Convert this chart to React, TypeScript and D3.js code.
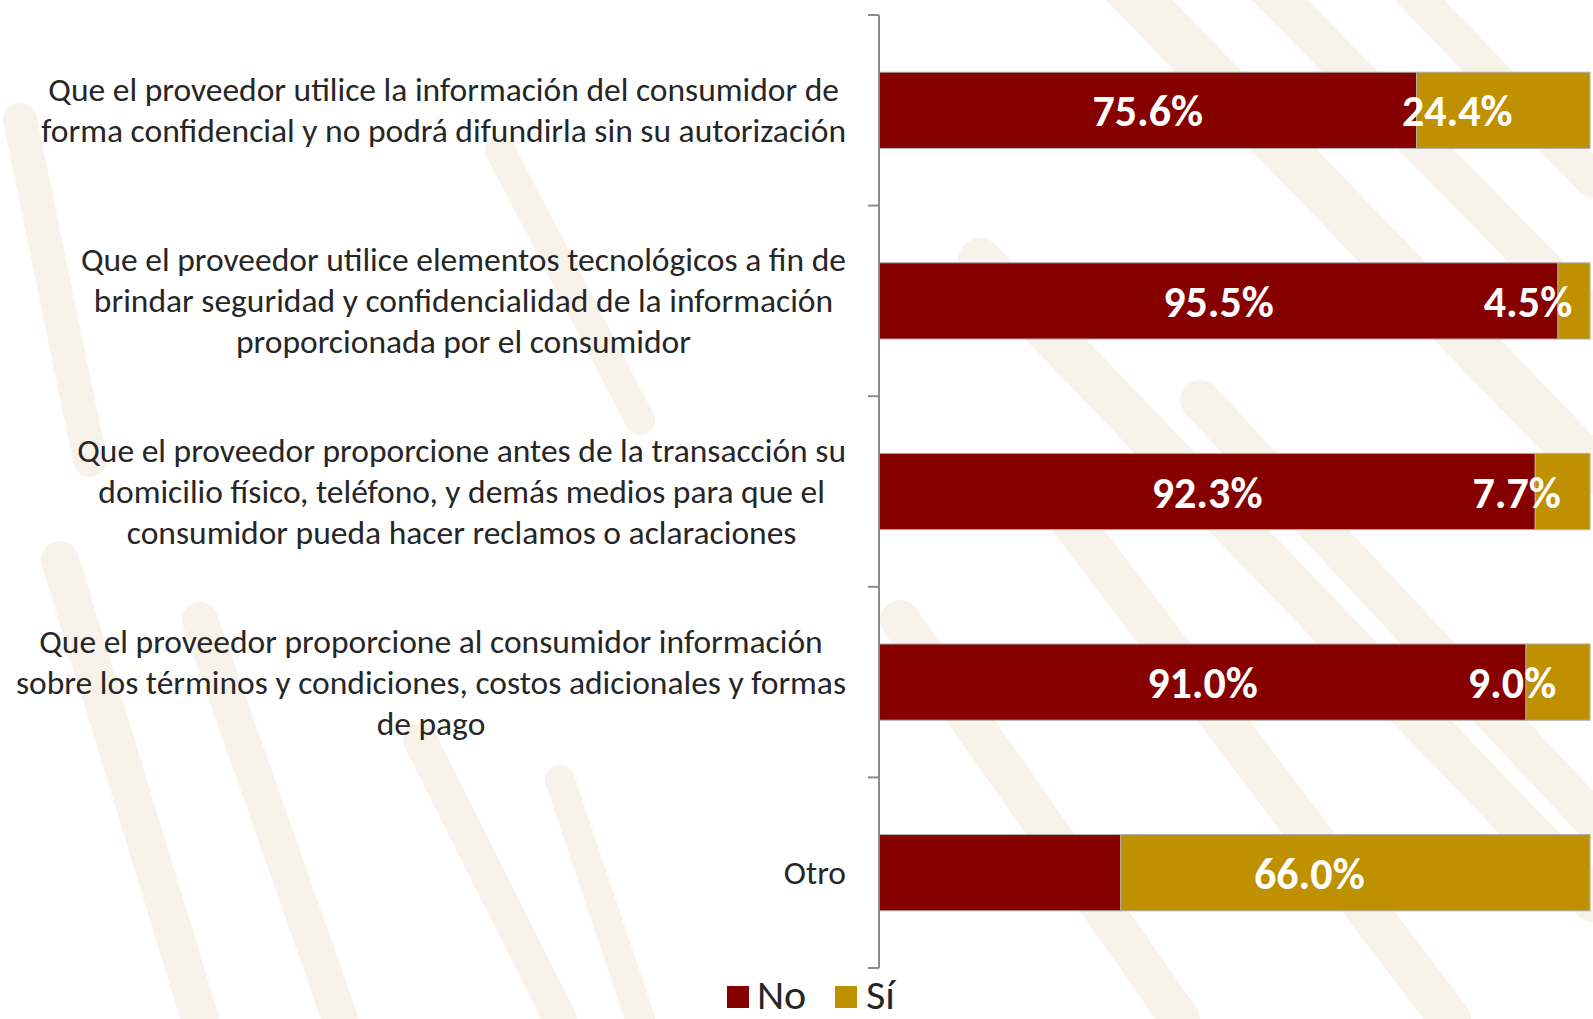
import React, { useEffect, useRef } from "react";
import * as d3 from "d3";

// ---- data ----
const categoryLines: string[][] = [
  [
    "Que el proveedor utilice la información del consumidor de",
    "forma confidencial y no podrá difundirla sin su autorización",
  ],
  [
    "Que el proveedor utilice elementos tecnológicos a fin de",
    "brindar seguridad y confidencialidad de la información",
    "proporcionada por el consumidor",
  ],
  [
    "Que el proveedor proporcione antes de la transacción su",
    "domicilio físico, teléfono, y demás medios para que el",
    "consumidor pueda hacer reclamos o aclaraciones",
  ],
  [
    "Que el proveedor proporcione al consumidor información",
    "sobre los términos y condiciones, costos adicionales y formas",
    "de pago",
  ],
  ["Otro"],
];
const noValues = [75.6, 95.5, 92.3, 91.0, 34.0];
const siValues = [24.4, 4.5, 7.7, 9.0, 66.0];
const showNoLabel = [true, true, true, true, false];
const seriesNames = ["No", "Sí"];
const seriesColors = ["#860000", "#BF9000"];

const W = 1593;
const H = 1019;

export default function App() {
  const ref = useRef<SVGSVGElement | null>(null);

  useEffect(() => {
    const svg = d3.select(ref.current);
    svg.selectAll("*").remove();

    const axisX = 879;
    const barEnd = 1590;
    const yTop = 15;
    const yBottom = 968;
    const labelRight = 846;
    const font = "Carlito, Calibri, Lato, sans-serif";

    svg.append("rect").attr("width", W).attr("height", H).attr("fill", "#ffffff");

    // faint watermark decoration
    const wm = svg.append("g").attr("fill", "none").attr("stroke", "#f8f3ea").attr("stroke-linecap", "round");
    const strokes: [number, number, number, number, number][] = [
      [1120, -20, 1593, 470, 48],
      [1260, -20, 1593, 320, 40],
      [1400, -20, 1593, 180, 36],
      [980, 260, 1593, 900, 44],
      [1040, 480, 1450, 1019, 42],
      [1200, 400, 1593, 820, 40],
      [900, 620, 1180, 1019, 40],
      [60, 560, 200, 1019, 38],
      [200, 620, 340, 1019, 36],
      [420, 740, 560, 1019, 34],
      [560, 780, 640, 1019, 30],
      [20, 120, 90, 460, 34],
      [500, 150, 640, 420, 30],
    ];
    strokes.forEach(([x1, y1, x2, y2, w]) => {
      wm.append("line").attr("x1", x1).attr("y1", y1).attr("x2", x2).attr("y2", y2).attr("stroke-width", w);
    });

    const keys = categoryLines.map((_, i) => String(i));
    const y = d3.scaleBand<string>().domain(keys).range([yTop, yBottom]).paddingInner(0).paddingOuter(0);
    const x = d3.scaleLinear().domain([0, 100]).range([axisX, barEnd]);
    const barH = y.bandwidth() * 0.4;

    const stackData = keys.map((k, i) => ({ key: k, No: noValues[i], Si: siValues[i] }));
    const stack = d3.stack<any>().keys(["No", "Si"]);
    const series = stack(stackData);

    // bars
    series.forEach((s, si) => {
      svg
        .append("g")
        .selectAll("rect")
        .data(s)
        .join("rect")
        .attr("x", (d) => x(d[0]))
        .attr("y", (d) => (y(d.data.key) as number) + (y.bandwidth() - barH) / 2)
        .attr("width", (d) => x(d[1]) - x(d[0]))
        .attr("height", barH)
        .attr("fill", seriesColors[si])
        .attr("stroke", "#b0b0b0")
        .attr("stroke-width", 1);
    });

    // value labels
    const lab = svg
      .append("g")
      .attr("font-family", font)
      .attr("font-weight", "bold")
      .attr("font-size", 44)
      .attr("fill", "#ffffff")
      .attr("text-anchor", "middle")
      .attr("dominant-baseline", "central");
    series[0].forEach((d, i) => {
      if (!showNoLabel[i]) return;
      lab
        .append("text")
        .attr("x", (x(d[0]) + x(d[1])) / 2)
        .attr("y", (y(d.data.key) as number) + y.bandwidth() / 2 + 1)
        .text(noValues[i].toFixed(1) + "%");
    });
    series[1].forEach((d, i) => {
      const c = (x(d[0]) + x(d[1])) / 2 - 46;
      lab
        .append("text")
        .attr("x", Math.min(c, barEnd - 46))
        .attr("y", (y(d.data.key) as number) + y.bandwidth() / 2 + 1)
        .text(siValues[i].toFixed(1) + "%");
    });

    // axis
    const ax = svg.append("g").attr("stroke", "#8c8c8c").attr("stroke-width", 2);
    ax.append("line").attr("x1", axisX).attr("x2", axisX).attr("y1", yTop).attr("y2", yBottom);
    const bounds = keys.map((k) => y(k) as number).concat([yBottom]);
    bounds.forEach((b) => {
      ax.append("line").attr("x1", axisX - 11).attr("x2", axisX).attr("y1", b).attr("y2", b);
    });

    // category labels
    const lineGap = 41;
    keys.forEach((k, i) => {
      const lines = categoryLines[i];
      const cy = (y(k) as number) + y.bandwidth() / 2;
      const g = svg
        .append("g")
        .attr("font-family", font)
        .attr("font-size", 33.5)
        .attr("fill", "#262626")
        .attr("text-anchor", "middle")
        .attr("dominant-baseline", "central");
      let maxW = 0;
      lines.forEach((ln, j) => {
        const t = g
          .append("text")
          .attr("x", 0)
          .attr("y", cy + (j - (lines.length - 1) / 2) * lineGap)
          .text(ln);
        const w = (t.node() as SVGTextElement).getComputedTextLength();
        if (w > maxW) maxW = w;
      });
      g.attr("transform", `translate(${labelRight - maxW / 2},0)`);
    });

    // legend
    const lg = svg.append("g").attr("font-family", font).attr("font-size", 42).attr("fill", "#262626");
    const items = [
      { sx: 727, tx: 757 },
      { sx: 835, tx: 866 },
    ];
    seriesNames.forEach((n, i) => {
      lg.append("rect").attr("x", items[i].sx).attr("y", 986).attr("width", 22).attr("height", 22).attr("fill", seriesColors[i]);
      lg.append("text").attr("x", items[i].tx).attr("y", 1009).text(n);
    });
  }, []);

  return (
    <svg
      ref={ref}
      width={W}
      height={H}
      style={{ position: "absolute", left: 0, top: 0, display: "block" }}
    />
  );
}
